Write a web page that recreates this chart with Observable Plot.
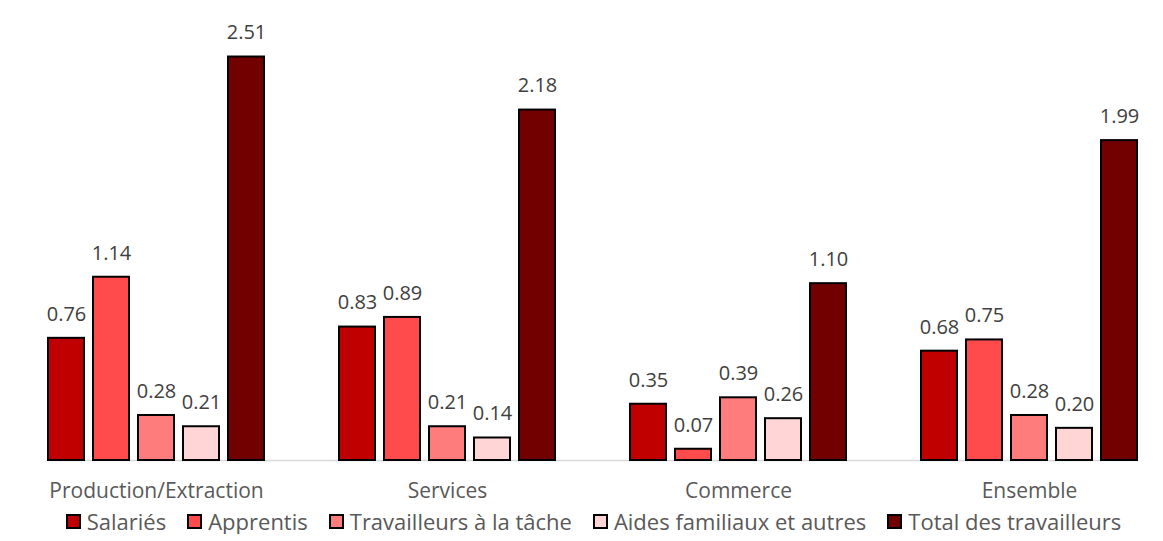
<!DOCTYPE html>
<html>
<head>
<meta charset="utf-8">
<script src="https://cdn.jsdelivr.net/npm/d3@7"></script>
<script src="https://cdn.jsdelivr.net/npm/@observablehq/plot@0.6"></script>
<style>
  body { margin: 0; background: #fff; font-family: "Open Sans", sans-serif; }
  #legend { display: flex; justify-content: center; gap: 21px; padding-left: 24px; margin-top: 3px;
            font-size: 22px; color: #595959; line-height: 26px; white-space: nowrap; }
  .item { display: flex; align-items: center; gap: 6px; }
  .sw { width: 15px; height: 15px; border: 2px solid #000; box-sizing: border-box; }
</style>
</head>
<body>
<div id="chart"></div>
<div id="legend"></div>
<script>
const categories = ["Production/Extraction", "Services", "Commerce", "Ensemble"];
const series = ["Salariés", "Apprentis", "Travailleurs à la tâche", "Aides familiaux et autres", "Total des travailleurs"];
const colors = ["#C00000", "#FF4B4B", "#FF7C7C", "#FFD5D5", "#720000"];
const values = [
  [0.76, 1.14, 0.28, 0.21, 2.51],
  [0.83, 0.89, 0.21, 0.14, 2.18],
  [0.35, 0.07, 0.39, 0.26, 1.10],
  [0.68, 0.75, 0.28, 0.20, 1.99]
];

const data = [];
categories.forEach((c, i) => series.forEach((s, j) => data.push({category: c, series: s, value: values[i][j]})));

const chart = Plot.plot({
  width: 1163,
  height: 505,
  marginLeft: 10,
  marginRight: 11,
  marginTop: 9,
  marginBottom: 45,
  style: {fontFamily: "Open Sans, sans-serif", background: "#fff"},
  fx: {domain: categories, range: [9.5, 1174.5], paddingInner: 0.258, paddingOuter: 0.129, label: null, axis: null},
  x: {domain: series, paddingInner: 0.2, paddingOuter: 0, axis: null},
  y: {domain: [0, 2.8], range: [460, 9.9], axis: null},
  color: {domain: series, range: colors},
  marks: [
    Plot.frame({anchor: "bottom", facet: "super", stroke: "#d9d9d9", strokeWidth: 1.5}),
    Plot.barY(data, {fx: "category", x: "series", y: "value", fill: "series", stroke: "#000", strokeWidth: 2}),
    Plot.text(data, {fx: "category", x: "series", y: "value", text: d => d.value.toFixed(2), dy: -24, fill: "#404040", fontSize: 20, lineAnchor: "middle"}),
    Plot.axisFx({anchor: "bottom", tickSize: 0, tickPadding: 23, fontSize: 21, color: "#595959", label: null})
  ]
});
document.getElementById("chart").appendChild(chart);

const legend = document.getElementById("legend");
series.forEach((s, j) => {
  const it = document.createElement("div");
  it.className = "item";
  const sw = document.createElement("div");
  sw.className = "sw";
  sw.style.background = colors[j];
  const t = document.createElement("span");
  t.textContent = s;
  it.appendChild(sw); it.appendChild(t);
  legend.appendChild(it);
});
</script>
</body>
</html>
